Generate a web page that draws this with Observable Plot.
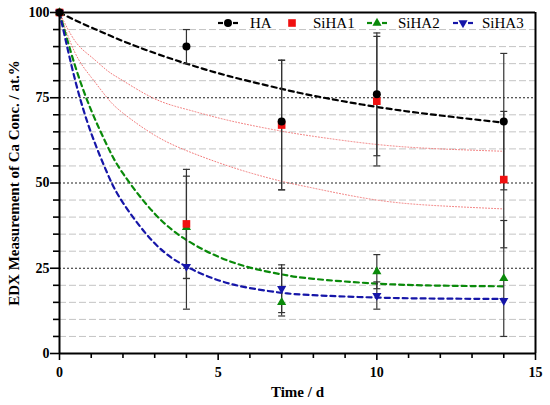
<!DOCTYPE html>
<html><head><meta charset="utf-8">
<script src="https://cdn.jsdelivr.net/npm/d3@7"></script>
<script src="https://cdn.jsdelivr.net/npm/@observablehq/plot@0.6"></script>
<style>
body{margin:0;background:#fff;}
#wrap{position:relative;width:550px;height:405px;font-family:"Liberation Serif","DejaVu Serif",serif;}
#wrap svg text{font-family:"Liberation Serif","DejaVu Serif",serif;}
#legend{position:absolute;left:0;top:0;pointer-events:none;}
</style></head><body><div id="wrap"></div>
<script>
// measured points
const times = [0, 4, 7, 10, 14];
const HA      = [100, 90, 68, 76, 68];
const HA_lo   = [null, 85, 48, 58, 48];
const HA_hi   = [null, 95, 86, 94, 88];
const SiHA1    = [100, 38, 67, 74, 51];
const SiHA1_lo = [null, 22, 48, 55, 31];
const SiHA1_hi = [null, 54, 86, 93, 71];
const SiHA2    = [100, 37, 15, 24, 22];
const SiHA2_lo = [null, 22, 11, 19, 5];
const SiHA2_hi = [null, 52, 25, 29, 39];
const SiHA3    = [100, 25.5, 19, 17, 15.5];
const SiHA3_lo = [null, 13, 12, 13, null];
const SiHA3_hi = [null, 38, 26, 21, null];

// fitted curves
const fitT        = [0, 0.5, 1, 1.5, 2, 3, 4, 5, 6, 7, 8, 10, 12, 14];
const HA_fit      = [100, 97.7, 95.6, 93.6, 91.6, 88.1, 85.0, 82.2, 79.8, 77.6, 75.6, 72.3, 69.8, 67.7];
const SiHA2_fit   = [100, 84.1, 71.3, 61.0, 52.8, 41.0, 33.3, 28.4, 25.2, 23.2, 21.9, 20.5, 19.9, 19.7];
const SiHA3_fit   = [100, 79.9, 64.6, 53.0, 44.2, 32.3, 25.5, 21.5, 19.2, 17.8, 17.1, 16.4, 16.1, 16.0];
const redUpper    = [100, 91.5, 87, 83, 80, 74.7, 71.6, 69.1, 67, 65.2, 63.7, 61.3, 60, 59.3];
const redLower    = [100, 88, 81, 75, 70.5, 64, 59.5, 56, 53, 50.5, 48.5, 45, 43.3, 42.4];

// axis ticks
const xMajor = [0, 5, 10, 15];
const xMinor = [1, 2, 3, 4, 6, 7, 8, 9, 11, 12, 13, 14];
const yMajor = [0, 25, 50, 75, 100];
const yMinor = [5, 10, 15, 20, 30, 35, 40, 45, 55, 60, 65, 70, 80, 85, 90, 95];
const yLabel = "EDX Measurement of Ca Conc. / at.%";
const xLabel = "Time / d";

const cBlack = "#000", cRed = "#f01010", cGreen = "#0a8a0a", cBlue = "#1616a8";

const serif = "Liberation Serif, DejaVu Serif, serif";

const capSym = {draw(ctx, size){ const r = Math.sqrt(size/Math.PI); ctx.moveTo(-r,0); ctx.lineTo(r,0); }};
const triDown = {draw(ctx, size){
  const y = -Math.sqrt(size / (Math.sqrt(3) * 3));
  ctx.moveTo(0, -y*2); ctx.lineTo(-Math.sqrt(3)*y, y); ctx.lineTo(Math.sqrt(3)*y, y); ctx.closePath();
}};

function rows(vals, lo, hi){ return times.map((t,i)=>({t, v: vals[i], lo: lo[i], hi: hi[i]})); }
function fitRows(vals){ return fitT.map((t,i)=>({t, v: vals[i]})); }
const pHA = rows(HA, HA_lo, HA_hi), p1 = rows(SiHA1, SiHA1_lo, SiHA1_hi),
      p2 = rows(SiHA2, SiHA2_lo, SiHA2_hi), p3 = rows(SiHA3, SiHA3_lo, SiHA3_hi);
const allP = [...p3, ...p2, ...p1, ...pHA].filter(d => d.lo != null);
const caps = allP.flatMap(d => [{t: d.t, v: d.lo}, {t: d.t, v: d.hi}]);

const chart = Plot.plot({
  width: 550, height: 405,
  marginLeft: 59, marginRight: 15, marginTop: 12, marginBottom: 52,
  x: {domain: [0, 15]},
  y: {domain: [0, 100]},
  style: {fontFamily: serif, fontSize: "14px", fontWeight: "bold", background: "#fff"},
  marks: [
    Plot.ruleY(yMinor, {stroke: "#c4c4c4", strokeDasharray: "7,3", strokeWidth: 1}),
    Plot.ruleY([25, 50, 75], {stroke: "#222", strokeDasharray: "2,2", strokeWidth: 1.2}),
    Plot.line(fitRows(redUpper), {x: "t", y: "v", stroke: "#f27a7a", strokeWidth: 1, strokeDasharray: "1,2", curve: "natural"}),
    Plot.line(fitRows(redLower), {x: "t", y: "v", stroke: "#f27a7a", strokeWidth: 1, strokeDasharray: "1,2", curve: "natural"}),
    Plot.line(fitRows(HA_fit), {x: "t", y: "v", stroke: cBlack, strokeWidth: 2.2, strokeDasharray: "5,4", curve: "natural"}),
    Plot.line(fitRows(SiHA2_fit), {x: "t", y: "v", stroke: cGreen, strokeWidth: 2.2, strokeDasharray: "5,4", curve: "natural"}),
    Plot.line(fitRows(SiHA3_fit), {x: "t", y: "v", stroke: cBlue, strokeWidth: 2.2, strokeDasharray: "5,4", curve: "natural"}),
    Plot.ruleX(allP, {x: "t", y1: "lo", y2: "hi", stroke: "#333", strokeWidth: 1.2}),
    Plot.dot(caps, {x: "t", y: "v", symbol: capSym, r: 3.5, stroke: "#333", fill: "none", strokeWidth: 1.2}),
    Plot.dot(p3, {x: "t", y: "v", symbol: triDown, r: 3.4, fill: cBlue, stroke: "none"}),
    Plot.dot(p2, {x: "t", y: "v", symbol: "triangle", r: 3.4, fill: cGreen, stroke: "none"}),
    Plot.dot(p1, {x: "t", y: "v", symbol: "square", r: 4.3, fill: cRed, stroke: "none"}),
    Plot.dot(pHA, {x: "t", y: "v", symbol: "circle", r: 4, fill: cBlack, stroke: "none"}),
    Plot.ruleY([100], {stroke: "#000", strokeWidth: 2}),
    Plot.ruleX([15], {stroke: "#000", strokeWidth: 2}),
    Plot.ruleX([0], {stroke: "#000", strokeWidth: 2}),
    Plot.ruleY([0], {stroke: "#000", strokeWidth: 2}),
    Plot.axisY({ticks: yMajor, tickSize: 9, tickPadding: 1, label: null, fontSize: 14, fontWeight: "bold", fontFamily: serif, strokeWidth: 1.6}),
    Plot.axisY({ticks: yMinor, tickSize: 6, tickFormat: () => "", label: null, strokeWidth: 1.6}),
    Plot.axisX({ticks: xMajor, tickSize: 7, tickPadding: 7, label: null, fontSize: 14, fontWeight: "bold", fontFamily: serif, strokeWidth: 1.6}),
    Plot.axisX({ticks: xMinor, tickSize: 5, tickFormat: () => "", label: null, strokeWidth: 1.6}),
    Plot.text([xLabel], {text: d => d, frameAnchor: "bottom", dy: 39, lineAnchor: "middle", textAnchor: "middle", fontSize: 15, fontWeight: "bold", fontFamily: serif}),
    Plot.text([yLabel], {text: d => d, frameAnchor: "left", dx: -45, rotate: -90, lineAnchor: "middle", textAnchor: "middle", fontSize: 15, fontWeight: "bold", fontFamily: serif})
  ]
});
const wrap = document.getElementById("wrap");
wrap.appendChild(chart);

// legend overlay
const legendItems = [
  {name: "HA", color: cBlack, sym: d3.symbolCircle, size: 50, line: true, mx: 228, tx: 250},
  {name: "SiHA1", color: cRed, sym: d3.symbolSquare, size: 58, line: false, mx: 292, tx: 313},
  {name: "SiHA2", color: cGreen, sym: d3.symbolTriangle, size: 36, line: true, mx: 377, tx: 398},
  {name: "SiHA3", color: cBlue, sym: triDown, size: 36, line: true, mx: 463, tx: 482}
];
const lg = d3.select(wrap).append("svg").attr("id", "legend").attr("width", 550).attr("height", 40);
const ly = 23;
for (const it of legendItems) {
  if (it.line) {
    lg.append("line").attr("x1", it.mx - 10).attr("x2", it.mx - 5).attr("y1", ly).attr("y2", ly).attr("stroke", it.color).attr("stroke-width", 2.2);
    lg.append("line").attr("x1", it.mx + 5).attr("x2", it.mx + 10).attr("y1", ly).attr("y2", ly).attr("stroke", it.color).attr("stroke-width", 2.2);
  }
  lg.append("path").attr("d", d3.symbol(it.sym, it.size)()).attr("transform", `translate(${it.mx},${ly})`).attr("fill", it.color);
  lg.append("text").attr("x", it.tx).attr("y", ly + 5).style("font-family", serif).attr("font-size", 15).attr("fill", "#000").text(it.name);
}
</script>
</body></html>
